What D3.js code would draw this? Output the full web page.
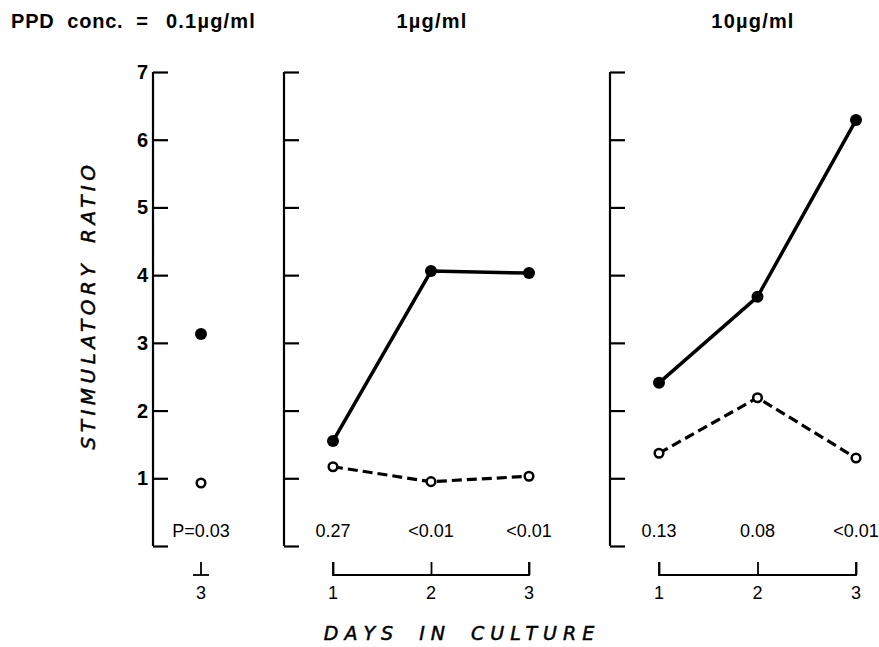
<!DOCTYPE html>
<html><head><meta charset="utf-8">
<script src="https://cdn.jsdelivr.net/npm/d3@7"></script>
<style>body{margin:0;background:#fff}svg{display:block}</style>
</head><body>
<script>
const panelTitles = ["0.1\u00b5g/ml", "1\u00b5g/ml", "10\u00b5g/ml"];
const panelDays = [[3], [1, 2, 3], [1, 2, 3]];
const filledValues = [[3.13], [1.55, 4.06, 4.03], [2.41, 3.68, 6.29]];
const openValues = [[0.93], [1.17, 0.95, 1.03], [1.37, 2.19, 1.30]];
const pValues = [["P=0.03"], ["0.27", "<0.01", "<0.01"], ["0.13", "0.08", "<0.01"]];
const yTicks = [0, 1, 2, 3, 4, 5, 6, 7];

const W = 879, H = 647;
const FONT = "Liberation Sans, Arial, Helvetica, sans-serif";
const svg = d3.select("body").append("svg").attr("width", W).attr("height", H);
const y = d3.scaleLinear().domain([0, 7]).range([546, 72]);

const axisX = [153, 284, 610];
const xRanges = [[201, 201], [333, 529], [659, 856]];

svg.append("text").attr("x", 11).attr("y", 28)
  .attr("font-family", FONT).attr("font-weight", "bold")
  .attr("font-size", 20).attr("letter-spacing", 0.8)
  .style("white-space", "pre").text("PPD  conc.  =");

const titleX = [166, 432, 753];

panelTitles.forEach((t, i) => {
  svg.append("text").attr("x", titleX[i]).attr("y", 28)
    .attr("text-anchor", i === 0 ? "start" : "middle")
    .attr("font-family", FONT).attr("font-weight", "bold")
    .attr("font-size", 20).attr("letter-spacing", 1.2).text(t);

  const g = svg.append("g");
  const ax = d3.axisRight(y).tickValues(yTicks).tickSize(15).tickFormat("");
  const ga = g.append("g").attr("transform", `translate(${axisX[i]},0)`).call(ax);
  ga.select(".domain").attr("d", `M0,${y(0)}V${y(7)}`).attr("stroke-width", 2.2);
  ga.selectAll(".tick line").attr("stroke-width", 2.2);
  if (i === 0) {
    yTicks.filter(v => v > 0).forEach(v => {
      g.append("text").attr("x", axisX[0] - 5).attr("y", y(v) + 7)
        .attr("text-anchor", "end").attr("font-family", FONT)
        .attr("font-weight", "bold").attr("font-size", 20).text(v);
    });
  }

  const days = panelDays[i];
  const x = d3.scaleLinear().domain(days.length > 1 ? [1, 3] : [2.5, 3.5])
    .range(days.length > 1 ? xRanges[i] : [xRanges[i][0] - 100, xRanges[i][0] + 100]);

  if (days.length > 1) {
    const xa = d3.axisTop(x).tickValues(days).tickSize(13).tickFormat("");
    const gx = g.append("g").attr("transform", "translate(0,575)").call(xa);
    gx.select(".domain").attr("d", `M${x(1)},-13V0H${x(3)}V-13`).attr("stroke-width", 1.8);
    gx.selectAll(".tick line").attr("stroke-width", 1.8);
  } else {
    g.append("line").attr("x1", x(3)).attr("x2", x(3)).attr("y1", 562).attr("y2", 575)
      .attr("stroke", "#000").attr("stroke-width", 1.8);
    g.append("line").attr("x1", x(3) - 8).attr("x2", x(3) + 8).attr("y1", 575).attr("y2", 575)
      .attr("stroke", "#000").attr("stroke-width", 1.8);
  }
  days.forEach(d => {
    g.append("text").attr("x", x(d)).attr("y", 599).attr("text-anchor", "middle")
      .attr("font-family", FONT).attr("font-size", 18).text(d);
  });

  pValues[i].forEach((p, j) => {
    g.append("text").attr("x", x(days[j])).attr("y", 537)
      .attr("text-anchor", "middle").attr("font-family", FONT)
      .attr("font-size", 18).text(p);
  });

  const pts = (vals) => days.map((d, j) => [x(d), y(vals[j])]);
  if (days.length > 1) {
    g.append("path").attr("d", d3.line()(pts(filledValues[i])))
      .attr("fill", "none").attr("stroke", "#000").attr("stroke-width", 3.5);
    g.append("path").attr("d", d3.line()(pts(openValues[i])))
      .attr("fill", "none").attr("stroke", "#000").attr("stroke-width", 3.2)
      .attr("stroke-dasharray", "10,5");
  }
  pts(filledValues[i]).forEach(p => g.append("circle").attr("cx", p[0]).attr("cy", p[1]).attr("r", 6).attr("fill", "#000"));
  pts(openValues[i]).forEach(p => g.append("circle").attr("cx", p[0]).attr("cy", p[1]).attr("r", 4.3)
    .attr("fill", "#fff").attr("stroke", "#000").attr("stroke-width", 2.5));
});

svg.append("text").attr("transform", "translate(95,305) rotate(-90)")
  .attr("text-anchor", "middle").attr("font-family", "DejaVu Sans, sans-serif")
  .attr("font-style", "italic").attr("font-size", 20).attr("letter-spacing", 4.5)
  .attr("word-spacing", 6).attr("stroke", "#000").attr("stroke-width", 0.5)
  .text("STIMULATORY RATIO");

svg.append("text").attr("x", 462).attr("y", 640).attr("text-anchor", "middle")
  .attr("font-family", "DejaVu Sans, sans-serif")
  .attr("font-style", "italic").attr("font-size", 19).attr("letter-spacing", 6)
  .attr("word-spacing", 8).attr("stroke", "#000").attr("stroke-width", 0.5)
  .text("DAYS IN CULTURE");
</script>
</body></html>
